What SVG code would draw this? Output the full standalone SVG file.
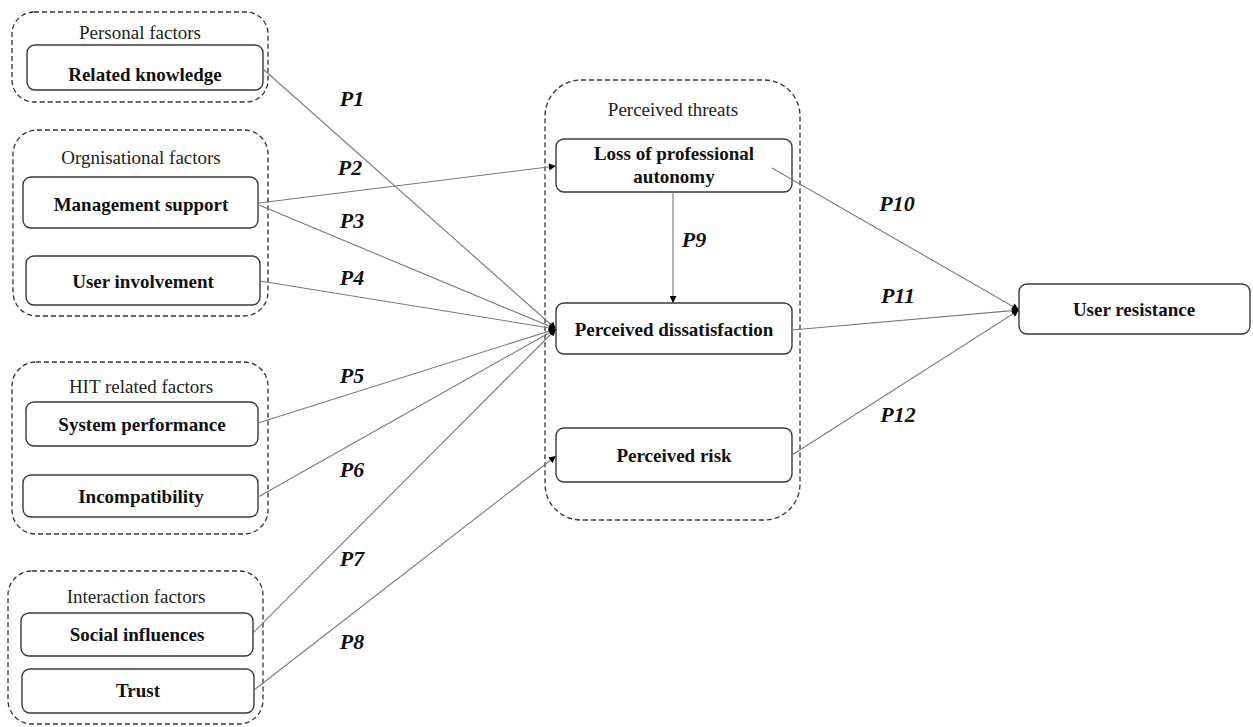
<svg xmlns="http://www.w3.org/2000/svg" width="1253" height="727" viewBox="0 0 1253 727">
<defs>
<style>
.grp{fill:none;stroke:#333;stroke-width:1.3;stroke-dasharray:5 3}
.node rect{fill:#fff;stroke:#3a3a3a;stroke-width:1.4}
.gl{font-family:"Liberation Serif",serif;font-size:19px;fill:#222;text-anchor:middle}
.nl{font-family:"Liberation Serif",serif;font-size:19px;font-weight:bold;fill:#111;text-anchor:middle}
.pl{font-family:"Liberation Serif",serif;font-size:22px;font-weight:bold;font-style:italic;fill:#111;text-anchor:middle}
.con line{stroke:#7a7a7a;stroke-width:1.1;fill:none}
.con line.a{marker-end:url(#ah)}
</style>
<marker id="ah" viewBox="0 0 10 10" refX="10" refY="5" markerWidth="8" markerHeight="7" markerUnits="userSpaceOnUse" orient="auto">
<path d="M0,0 L10,5 L0,10 z" fill="#000"/>
</marker>
</defs>
<rect width="1253" height="727" fill="#fff"/>

<g id="group-personal">
<rect class="grp" x="12" y="12" width="256" height="90" rx="22"/>
<text class="gl" x="140" y="39">Personal factors</text>
</g>
<g id="group-org">
<rect class="grp" x="13" y="130" width="255" height="186" rx="24"/>
<text class="gl" x="141" y="164">Orgnisational factors</text>
</g>
<g id="group-hit">
<rect class="grp" x="12" y="362" width="256" height="172" rx="24"/>
<text class="gl" x="141" y="393">HIT related factors</text>
</g>
<g id="group-interaction">
<rect class="grp" x="8" y="571" width="255" height="153" rx="24"/>
<text class="gl" x="136" y="603">Interaction factors</text>
</g>
<g id="group-threats">
<rect class="grp" x="545" y="80" width="255" height="440" rx="36"/>
<text class="gl" x="673" y="116">Perceived threats</text>
</g>

<g class="node" id="node-related-knowledge">
<rect x="27" y="45" width="236" height="45" rx="8"/>
<text class="nl" x="145" y="81">Related knowledge</text>
</g>
<g class="node" id="node-management-support">
<rect x="23" y="177" width="235" height="51" rx="8"/>
<text class="nl" x="141" y="211">Management support</text>
</g>
<g class="node" id="node-user-involvement">
<rect x="26" y="256" width="234" height="49" rx="8"/>
<text class="nl" x="143" y="288">User involvement</text>
</g>
<g class="node" id="node-system-performance">
<rect x="26" y="402" width="232" height="44" rx="8"/>
<text class="nl" x="142" y="431">System performance</text>
</g>
<g class="node" id="node-incompatibility">
<rect x="23" y="475" width="235" height="42" rx="8"/>
<text class="nl" x="141" y="503">Incompatibility</text>
</g>
<g class="node" id="node-social-influences">
<rect x="21" y="613" width="232" height="43" rx="8"/>
<text class="nl" x="137" y="641">Social influences</text>
</g>
<g class="node" id="node-trust">
<rect x="22" y="669" width="232" height="44" rx="8"/>
<text class="nl" x="138" y="697">Trust</text>
</g>
<g class="node" id="node-loss-autonomy">
<rect x="556" y="139" width="236" height="53" rx="8"/>
<text class="nl" x="674" y="160">Loss of professional</text>
<text class="nl" x="674" y="183">autonomy</text>
</g>
<g class="node" id="node-perceived-dissatisfaction">
<rect x="556" y="303" width="236" height="51" rx="8"/>
<text class="nl" x="674" y="336">Perceived dissatisfaction</text>
</g>
<g class="node" id="node-perceived-risk">
<rect x="556" y="428" width="236" height="54" rx="8"/>
<text class="nl" x="674" y="462">Perceived risk</text>
</g>
<g class="node" id="node-user-resistance">
<rect x="1019" y="284" width="231" height="50" rx="8"/>
<text class="nl" x="1134" y="316">User resistance</text>
</g>

<g class="con" id="connectors">
<line class="a" x1="263" y1="69" x2="556" y2="329"/>
<line class="a" x1="259" y1="203" x2="556" y2="166"/>
<line class="a" x1="259" y1="205" x2="556" y2="329"/>
<line class="a" x1="260" y1="281" x2="556" y2="329"/>
<line class="a" x1="258" y1="423" x2="556" y2="329"/>
<line class="a" x1="258" y1="497" x2="556" y2="329"/>
<line class="a" x1="253" y1="633" x2="556" y2="329"/>
<line class="a" x1="254" y1="690" x2="556" y2="456"/>
<line class="a" x1="673" y1="192" x2="673" y2="303"/>
<line class="a" x1="772" y1="168" x2="1019" y2="310"/>
<line class="a" x1="792" y1="330" x2="1019" y2="310"/>
<line class="a" x1="792" y1="455" x2="1019" y2="310"/>
<text class="pl" x="352" y="106">P1</text>
<text class="pl" x="350" y="175">P2</text>
<text class="pl" x="352" y="228">P3</text>
<text class="pl" x="352" y="285">P4</text>
<text class="pl" x="352" y="383">P5</text>
<text class="pl" x="352" y="477">P6</text>
<text class="pl" x="352" y="566">P7</text>
<text class="pl" x="352" y="649">P8</text>
<text class="pl" x="694" y="247">P9</text>
<text class="pl" x="897" y="211">P10</text>
<text class="pl" x="898" y="303">P11</text>
<text class="pl" x="898" y="422">P12</text>
</g>
</svg>
